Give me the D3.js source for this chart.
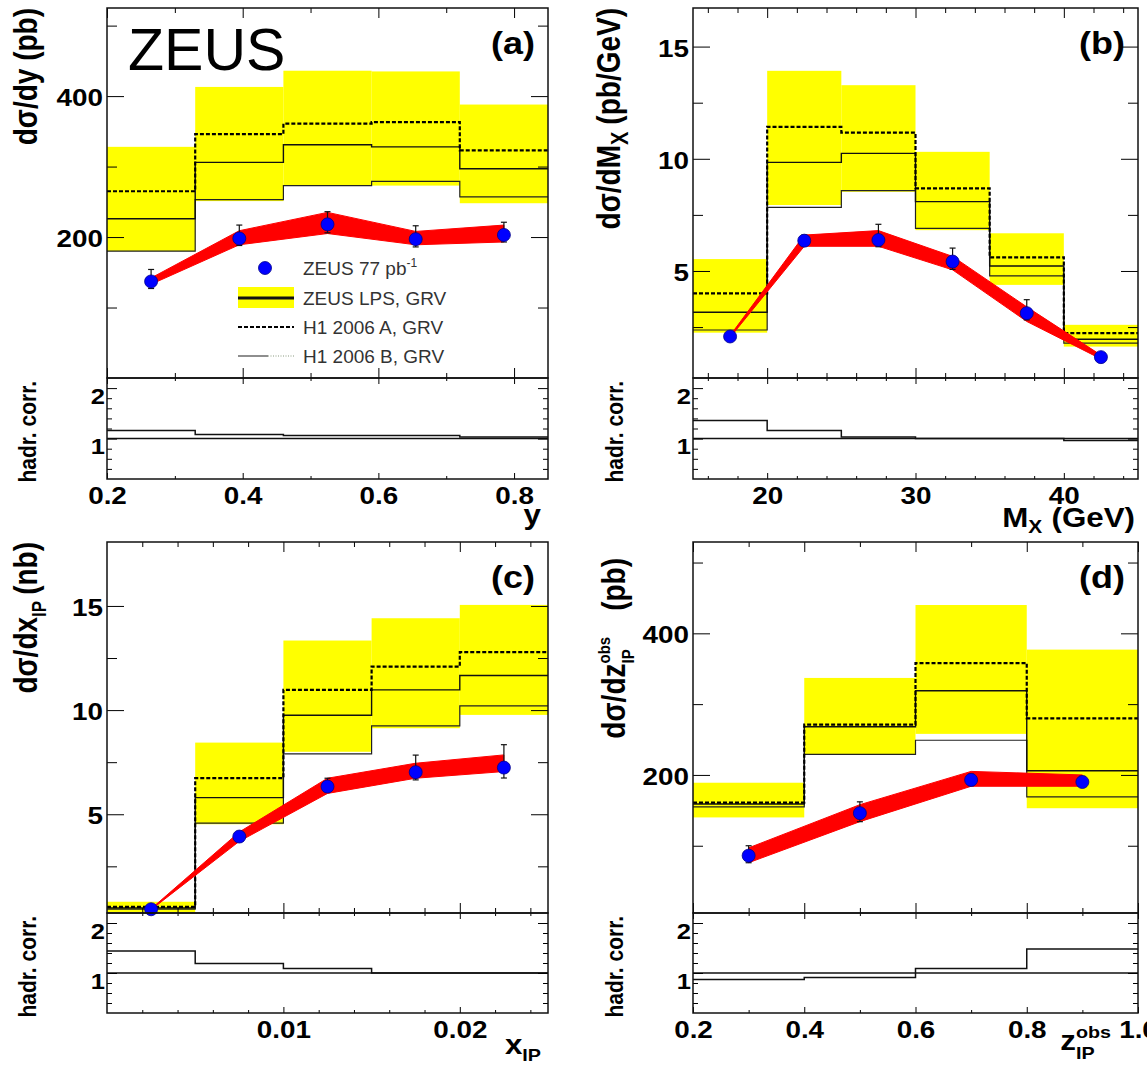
<!DOCTYPE html>
<html>
<head>
<meta charset="utf-8">
<script src="https://cdn.jsdelivr.net/npm/d3@7"></script>
<style>
  html, body { margin: 0; padding: 0; background: #fff; }
  svg { display: block; }
</style>
</head>
<body>
<div id="chart"></div>
<script>
// ---- values ----
// (a) dsigma/dy
const aEdges = [0.2, 0.33, 0.46, 0.59, 0.72, 0.85];
const aData = [137, 198, 218, 197, 203];
const aErrUp = [17, 19, 18, 19, 18];
const aErrDn = [10, 10, 12, 11, 10];
const aRedLo = [133, 189, 205, 189, 193];
const aRedHi = [142, 209, 235, 208, 217];
const aLps = [226, 306, 331, 328, 297];
const aLpsLo = [180, 251, 273, 273, 248];
const aLpsHi = [328, 413, 436, 435, 388];
const aH1A = [265, 346, 361, 363, 323];
const aH1B = [180, 253, 273, 279, 257];
const aHadr = [1.16, 1.08, 1.06, 1.06, 1.03];

// (b) dsigma/dM_X
const bEdges = [15, 20, 25, 30, 35, 40, 45];
const bData = [2.08, 6.35, 6.38, 5.42, 3.12, 1.16];
const bErrUp = [0.05, 0.25, 0.7, 0.6, 0.6, 0.05];
const bErrDn = [0.05, 0.1, 0.3, 0.35, 0.3, 0.05];
const bRedLo = [2.04, 6.1, 6.1, 5.05, 2.75, 1.08];
const bRedHi = [2.12, 6.6, 6.8, 5.65, 3.4, 1.25];
const bLps = [3.16, 9.84, 10.24, 8.09, 5.22, 1.96];
const bLpsLo = [2.25, 7.94, 8.53, 6.82, 4.38, 1.63];
const bLpsHi = [5.53, 13.92, 13.28, 10.31, 6.68, 2.6];
const bH1A = [4.0, 11.42, 11.17, 8.68, 5.61, 2.23];
const bH1B = [2.37, 7.83, 8.58, 6.9, 4.78, 1.78];
const bHadr = [1.36, 1.16, 1.03, 1.0, 1.0, 0.96];

// (c) dsigma/dx_IP
const cEdges = [0, 0.005, 0.01, 0.015, 0.02, 0.025];
const cData = [0.44, 3.93, 6.33, 7.02, 7.24];
const cErrUp = [0.05, 0.1, 0.4, 0.82, 1.1];
const cErrDn = [0.05, 0.1, 0.2, 0.37, 0.5];
const cRedLo = [0.42, 3.7, 6.0, 6.73, 7.05];
const cRedHi = [0.46, 4.15, 6.73, 7.45, 7.85];
const cLps = [0.5, 5.8, 9.75, 10.97, 11.66];
const cLpsLo = [0.3, 4.52, 8.0, 9.13, 9.77];
const cLpsHi = [0.8, 8.44, 13.34, 14.41, 15.05];
const cH1A = [0.55, 6.73, 10.97, 12.09, 12.78];
const cH1B = [0.45, 4.57, 7.9, 9.24, 10.2];
const cHadr = [1.44, 1.19, 1.09, 1.0, 1.0];

// (d) dsigma/dz_IP^obs
const dEdges = [0.2, 0.4, 0.6, 0.8, 1.0];
const dData = [86, 146, 193, 190];
const dErrUp = [14, 16, 8, 8];
const dErrDn = [10, 12, 8, 6];
const dRedLo = [76, 134, 184, 184];
const dRedHi = [97, 158, 205, 200];
const dLps = [159, 268, 319, 206];
const dLpsLo = [140, 229, 258, 153];
const dLpsHi = [189, 337, 440, 377];
const dH1A = [161, 271, 358, 280];
const dH1B = [155, 229, 249, 169];
const dHadr = [0.87, 0.91, 1.09, 1.48];

// ---- tick values / labels ----
const pbTicks = [200, 400];
const pbMinor = [100, 300, 500];
const gevTicks = [5, 10, 15];
const gevMinor = [2.5, 7.5, 12.5];
const aXTicks = [0.2, 0.4, 0.6, 0.8];
const aXLabels = ["0.2", "0.4", "0.6", "0.8"];
const aXMinor = [0.3, 0.5, 0.7];
const bXTicks = [20, 30, 40];
const bXLabels = ["20", "30", "40"];
const bXMinor = [16, 18, 22, 24, 26, 28, 32, 34, 36, 38, 42, 44];
const cXTicks = [0.01, 0.02];
const cXLabels = ["0.01", "0.02"];
const cXMinor = [0.002, 0.004, 0.006, 0.008, 0.012, 0.014, 0.016, 0.018, 0.022, 0.024];
const dXTicks = [0.2, 0.4, 0.6, 0.8, 1.0];
const dXLabels = ["0.2", "0.4", "0.6", "0.8", "1.0"];
const dXMinor = [0.3, 0.5, 0.7, 0.9];
const corrTicks = [1, 2];
const corrMinor = [0.4, 0.6, 0.8, 1.2, 1.4, 1.6, 1.8];

const legendLabels = ["ZEUS 77 pb", "ZEUS LPS, GRV", "H1 2006 A, GRV", "H1 2006 B, GRV"];

const FONT = "'Liberation Sans', Arial, Helvetica, sans-serif";
const SX = 1.16; // the original figure is a bit stretched sideways

const svg = d3.select("#chart").append("svg")
    .attr("width", 1147)
    .attr("height", 1067);

// text made of pieces (sub/superscripts), optional rotation
function rich(parent, pieces, o) {
    const g = parent.append("g")
        .attr("transform", `translate(${o.x},${o.y}) scale(${o.sx || 1},1)` + (o.rot ? " rotate(-90)" : ""));
    const inner = g.append("g");
    let cx = 0, lastStart = 0;
    pieces.forEach((pc) => {
        const start = pc.stack ? lastStart : cx + (pc.dx || 0);
        const t = inner.append("text")
            .attr("x", start)
            .attr("y", pc.dy || 0)
            .attr("font-family", FONT)
            .attr("font-weight", o.weight || "bold")
            .attr("font-size", pc.size || o.size)
            .attr("fill", o.fill || "#000")
            .text(pc.t);
        const w = t.node().getComputedTextLength();
        if (!pc.stack) lastStart = start;
        cx = Math.max(cx, start + w);
    });
    const off = o.anchor === "end" ? -cx : o.anchor === "middle" ? -cx / 2 : 0;
    inner.attr("transform", `translate(${off},0)`);
    return g;
}

const panels = [
    {
        key: "a", L: 107, R: 548, T: 8, M: 378, B: 479,
        xDom: [0.2, 0.85], yDom: [0, 525],
        edges: aEdges, data: aData, errUp: aErrUp, errDn: aErrDn, redLo: aRedLo, redHi: aRedHi,
        lps: aLps, lpsLo: aLpsLo, lpsHi: aLpsHi, h1a: aH1A, h1b: aH1B, hadr: aHadr,
        yTicks: pbTicks, yMinor: pbMinor, xTicks: aXTicks, xLabels: aXLabels, xMinor: aXMinor,
        tag: "(a)",
        yTitle: [{ t: "dσ/dy (pb)" }], yTitleX: 37, yTitleY: 8,
        xTitle: [{ t: "y" }], xTitleX: 541, xTitleY: 524,
        corrX: 36
    },
    {
        key: "b", L: 693, R: 1138, T: 8, M: 378, B: 479,
        xDom: [15, 45], yDom: [0.23, 16.72],
        edges: bEdges, data: bData, errUp: bErrUp, errDn: bErrDn, redLo: bRedLo, redHi: bRedHi,
        lps: bLps, lpsLo: bLpsLo, lpsHi: bLpsHi, h1a: bH1A, h1b: bH1B, hadr: bHadr,
        yTicks: gevTicks, yMinor: gevMinor, xTicks: bXTicks, xLabels: bXLabels, xMinor: bXMinor,
        tag: "(b)",
        yTitle: [{ t: "dσ/dM" }, { t: "X", size: 20, dy: 7 }, { t: "(pb/GeV)", dx: 7 }], yTitleX: 620, yTitleY: 8,
        xTitle: [{ t: "M" }, { t: "X", size: 18, dy: 6 }, { t: "(GeV)", dx: 8 }], xTitleX: 1135, xTitleY: 527,
        corrX: 623
    },
    {
        key: "c", L: 107, R: 548, T: 542, M: 913, B: 1013,
        xDom: [0, 0.025], yDom: [0.26, 18.07],
        edges: cEdges, data: cData, errUp: cErrUp, errDn: cErrDn, redLo: cRedLo, redHi: cRedHi,
        lps: cLps, lpsLo: cLpsLo, lpsHi: cLpsHi, h1a: cH1A, h1b: cH1B, hadr: cHadr,
        yTicks: gevTicks, yMinor: gevMinor, xTicks: cXTicks, xLabels: cXLabels, xMinor: cXMinor,
        tag: "(c)",
        yTitle: [{ t: "dσ/dx" }, { t: "IP", size: 17, dy: 8 }, { t: "(nb)", dx: 6 }], yTitleX: 37, yTitleY: 542,
        xTitle: [{ t: "x" }, { t: "IP", size: 17, dy: 7 }], xTitleX: 541, xTitleY: 1054,
        corrX: 36
    },
    {
        key: "d", L: 693, R: 1138, T: 542, M: 913, B: 1013,
        xDom: [0.2, 1.0], yDom: [5, 529],
        edges: dEdges, data: dData, errUp: dErrUp, errDn: dErrDn, redLo: dRedLo, redHi: dRedHi,
        lps: dLps, lpsLo: dLpsLo, lpsHi: dLpsHi, h1a: dH1A, h1b: dH1B, hadr: dHadr,
        yTicks: pbTicks, yMinor: pbMinor, xTicks: dXTicks, xLabels: dXLabels, xMinor: dXMinor,
        tag: "(d)",
        yTitle: [{ t: "dσ/dz" }, { t: "IP", size: 15, dy: 8 }, { t: "obs", size: 15, dy: -13, stack: true }, { t: "(pb)", dx: 26 }],
        yTitleX: 625, yTitleY: 558,
        xTitle: [{ t: "z" }, { t: "IP", size: 17, dy: 9 }, { t: "obs", size: 17, dy: -12, stack: true }], xTitleX: 1111, xTitleY: 1050,
        corrX: 623
    }
];

function drawPanel(p) {
    const x = d3.scaleLinear().domain(p.xDom).range([p.L, p.R]);
    const y = d3.scaleLinear().domain(p.yDom).range([p.M, p.T]);
    const yc = d3.scaleLinear().domain([0.2, 2.2]).range([p.B, p.M]);
    const n = p.data.length;
    const bins = d3.range(n);
    const mids = bins.map((i) => (p.edges[i] + p.edges[i + 1]) / 2);

    const g = svg.append("g").attr("class", "panel-" + p.key);

    svg.append("clipPath").attr("id", "clip-" + p.key)
        .append("rect")
        .attr("x", p.L).attr("y", p.T)
        .attr("width", p.R - p.L).attr("height", p.M - p.T);

    const plot = g.append("g").attr("clip-path", `url(#clip-${p.key})`);

    // ZEUS LPS uncertainty band
    plot.selectAll("rect.lps")
        .data(bins)
        .join("rect")
        .attr("class", "lps")
        .attr("x", (i) => x(p.edges[i]))
        .attr("width", (i) => x(p.edges[i + 1]) - x(p.edges[i]))
        .attr("y", (i) => y(p.lpsHi[i]))
        .attr("height", (i) => y(p.lpsLo[i]) - y(p.lpsHi[i]))
        .attr("fill", "#ffff00");

    const stepPts = (vals) => p.edges.map((e, i) => [e, vals[Math.min(i, n - 1)]]);
    const step = d3.line()
        .x((d) => x(d[0]))
        .y((d) => y(d[1]))
        .curve(d3.curveStepAfter);

    plot.append("path")
        .attr("d", step(stepPts(p.h1b)))
        .attr("fill", "none").attr("stroke", "#222").attr("stroke-width", 1.2);
    plot.append("path")
        .attr("d", step(stepPts(p.lps)))
        .attr("fill", "none").attr("stroke", "#111").attr("stroke-width", 1.4);
    plot.append("path")
        .attr("d", step(stepPts(p.h1a)))
        .attr("fill", "none").attr("stroke", "#000").attr("stroke-width", 2.2)
        .attr("stroke-dasharray", "4,2");

    // energy-scale band
    const band = d3.area()
        .x((i) => x(mids[i]))
        .y0((i) => y(p.redLo[i]))
        .y1((i) => y(p.redHi[i]));
    plot.append("path")
        .attr("d", band(bins))
        .attr("fill", "#ff0000")
        .attr("stroke", "#ff0000")
        .attr("stroke-width", 1);

    // error bars
    const eb = plot.selectAll("g.err")
        .data(bins)
        .join("g")
        .attr("class", "err")
        .attr("stroke", "#111")
        .attr("stroke-width", 1.2);
    eb.append("line")
        .attr("x1", (i) => x(mids[i])).attr("x2", (i) => x(mids[i]))
        .attr("y1", (i) => y(p.data[i] + p.errUp[i]))
        .attr("y2", (i) => y(p.data[i] - p.errDn[i]));
    eb.append("line")
        .attr("x1", (i) => x(mids[i]) - 3).attr("x2", (i) => x(mids[i]) + 3)
        .attr("y1", (i) => y(p.data[i] + p.errUp[i]))
        .attr("y2", (i) => y(p.data[i] + p.errUp[i]));
    eb.append("line")
        .attr("x1", (i) => x(mids[i]) - 3).attr("x2", (i) => x(mids[i]) + 3)
        .attr("y1", (i) => y(p.data[i] - p.errDn[i]))
        .attr("y2", (i) => y(p.data[i] - p.errDn[i]));

    // data points
    g.selectAll("circle.pt")
        .data(bins)
        .join("circle")
        .attr("class", "pt")
        .attr("cx", (i) => x(mids[i]))
        .attr("cy", (i) => y(p.data[i]))
        .attr("r", 6.5)
        .attr("fill", "#0000ff")
        .attr("stroke", "#00008a")
        .attr("stroke-width", 0.8);

    // hadronisation correction sub-plot
    const cstep = d3.line()
        .x((d) => x(d[0]))
        .y((d) => yc(d[1]))
        .curve(d3.curveStepAfter);
    g.append("line")
        .attr("x1", p.L).attr("x2", p.R)
        .attr("y1", yc(1)).attr("y2", yc(1))
        .attr("stroke", "#111").attr("stroke-width", 1.5);
    g.append("path")
        .attr("d", cstep(stepPts(p.hadr)))
        .attr("fill", "none").attr("stroke", "#111").attr("stroke-width", 1.5);

    // axes (ticks point inwards, ROOT style)
    const axis = (tr, ax) => g.append("g")
        .attr("transform", tr)
        .call(ax)
        .call((a) => a.select(".domain").remove())
        .attr("font-family", FONT)
        .attr("font-weight", "bold")
        .attr("font-size", 24);

    // main y
    axis(`translate(${p.L},0)`, d3.axisLeft(y).tickValues(p.yTicks).tickSize(-17).tickFormat(d3.format("d")))
        .selectAll("text")
        .attr("x", 0).attr("dy", null)
        .attr("transform", `translate(-4,9.5) scale(${SX},1)`);
    axis(`translate(${p.L},0)`, d3.axisLeft(y).tickValues(p.yMinor).tickSize(-10).tickFormat(""));
    axis(`translate(${p.R},0)`, d3.axisRight(y).tickValues(p.yTicks).tickSize(-17).tickFormat(""));
    axis(`translate(${p.R},0)`, d3.axisRight(y).tickValues(p.yMinor).tickSize(-10).tickFormat(""));

    // main x (top and bottom edges)
    axis(`translate(0,${p.T})`, d3.axisTop(x).tickValues(p.xTicks).tickSize(-10).tickFormat(""));
    axis(`translate(0,${p.T})`, d3.axisTop(x).tickValues(p.xMinor).tickSize(-5).tickFormat(""));
    axis(`translate(0,${p.M})`, d3.axisBottom(x).tickValues(p.xTicks).tickSize(-10).tickFormat(""));
    axis(`translate(0,${p.M})`, d3.axisBottom(x).tickValues(p.xMinor).tickSize(-5).tickFormat(""));

    // sub x
    axis(`translate(0,${p.M})`, d3.axisTop(x).tickValues(p.xTicks).tickSize(-6).tickFormat(""));
    axis(`translate(0,${p.M})`, d3.axisTop(x).tickValues(p.xMinor).tickSize(-3).tickFormat(""));
    axis(`translate(0,${p.B})`, d3.axisBottom(x).tickValues(p.xTicks).tickSize(-6).tickFormat((d, i) => p.xLabels[i]))
        .selectAll("text")
        .attr("y", 0).attr("dy", null)
        .attr("transform", `translate(0,25) scale(${SX},1)`);
    axis(`translate(0,${p.B})`, d3.axisBottom(x).tickValues(p.xMinor).tickSize(-3).tickFormat(""));

    // sub y
    axis(`translate(${p.L},0)`, d3.axisLeft(yc).tickValues(corrTicks).tickSize(-10).tickFormat(d3.format("d")))
        .attr("font-size", 22)
        .selectAll("text")
        .attr("x", 0).attr("dy", null)
        .attr("transform", `translate(-2,15) scale(${SX},1)`);
    axis(`translate(${p.L},0)`, d3.axisLeft(yc).tickValues(corrMinor).tickSize(-5).tickFormat(""));
    axis(`translate(${p.R},0)`, d3.axisRight(yc).tickValues(corrTicks).tickSize(-10).tickFormat(""));
    axis(`translate(${p.R},0)`, d3.axisRight(yc).tickValues(corrMinor).tickSize(-5).tickFormat(""));

    // frames
    g.append("rect")
        .attr("x", p.L).attr("y", p.T)
        .attr("width", p.R - p.L).attr("height", p.M - p.T)
        .attr("fill", "none").attr("stroke", "#111").attr("stroke-width", 1.5);
    g.append("rect")
        .attr("x", p.L).attr("y", p.M)
        .attr("width", p.R - p.L).attr("height", p.B - p.M)
        .attr("fill", "none").attr("stroke", "#111").attr("stroke-width", 1.5);

    // titles and panel tag
    rich(g, p.yTitle, { x: p.yTitleX, y: p.yTitleY, rot: true, anchor: "end", size: 28, sx: SX });
    rich(g, [{ t: "hadr. corr." }], { x: p.corrX, y: p.M + 3, rot: true, anchor: "end", size: 21, sx: SX });
    rich(g, p.xTitle, { x: p.xTitleX, y: p.xTitleY, anchor: "end", size: 27, sx: SX });
    rich(g, [{ t: p.tag }], { x: p.R - 13, y: p.T + 46, anchor: "end", size: 31, sx: SX });

    return { x, y };
}

const scales = panels.map(drawPanel);

// experiment label
svg.append("text")
    .attr("x", 128)
    .attr("y", 70)
    .attr("font-family", FONT)
    .attr("font-size", 59)
    .attr("fill", "#000")
    .text("ZEUS");

// legend in panel (a)
const leg = svg.append("g")
    .attr("font-family", FONT)
    .attr("font-size", 19)
    .attr("fill", "#333");
const legY = [268, 298, 327, 356];
leg.append("circle")
    .attr("cx", 265).attr("cy", legY[0]).attr("r", 6.5)
    .attr("fill", "#0000ff").attr("stroke", "#00008a").attr("stroke-width", 0.8);
leg.append("rect")
    .attr("x", 238).attr("y", legY[1] - 11)
    .attr("width", 56).attr("height", 21)
    .attr("fill", "#ffff00");
leg.append("line")
    .attr("x1", 238).attr("x2", 294)
    .attr("y1", legY[1]).attr("y2", legY[1])
    .attr("stroke", "#111").attr("stroke-width", 3);
leg.append("line")
    .attr("x1", 238).attr("x2", 294)
    .attr("y1", legY[2]).attr("y2", legY[2])
    .attr("stroke", "#000").attr("stroke-width", 2.2).attr("stroke-dasharray", "4,2");
leg.append("line")
    .attr("x1", 238).attr("x2", 268)
    .attr("y1", legY[3]).attr("y2", legY[3])
    .attr("stroke", "#444").attr("stroke-width", 1.2);
leg.append("line")
    .attr("x1", 268).attr("x2", 294)
    .attr("y1", legY[3]).attr("y2", legY[3])
    .attr("stroke", "#8a9a80").attr("stroke-width", 1.2).attr("stroke-dasharray", "1,1.5");

const legText = leg.selectAll("text.lt")
    .data(legendLabels)
    .join("text")
    .attr("class", "lt")
    .attr("x", 303)
    .attr("y", (d, i) => legY[i] + 7)
    .text((d) => d);
legText.filter((d, i) => i === 0)
    .append("tspan")
    .attr("font-size", 12)
    .attr("dy", -8)
    .text("-1");
</script>
</body>
</html>
